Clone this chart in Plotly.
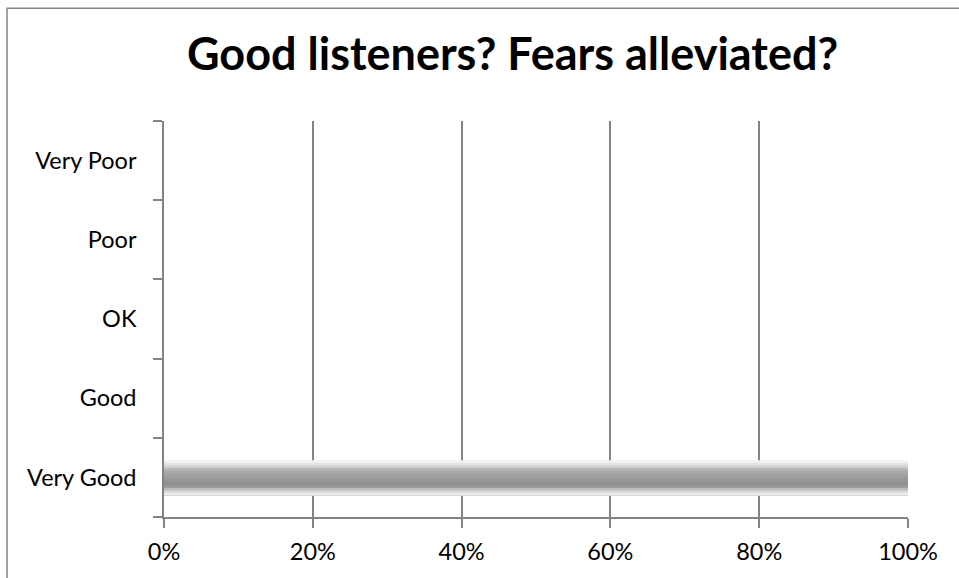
import plotly.graph_objects as go

# Survey answers, bottom to top on the category axis
categories = ["Very Good", "Good", "OK", "Poor", "Very Poor"]
shares = [1.0, 0, 0, 0, 0]
x_ticks = [0, 0.2, 0.4, 0.6, 0.8, 1.0]
x_tick_labels = ["0%", "20%", "40%", "60%", "80%", "100%"]

title_text = "Good listeners? Fears alleviated?"

grey = "#848484"
font_family = "Lato, 'Open Sans', 'DejaVu Sans', sans-serif"

# Vertical shading of the bar, from its top edge to its bottom edge
shade = ["#f2f2f2", "#e4e4e4", "#cfcfcf", "#b8b8b8", "#aaaaaa", "#a3a3a3",
         "#9d9d9d", "#989898", "#939393", "#8f8f8f", "#9a9a9a", "#bdbdbd",
         "#dadada", "#ececec"]
bar_top, bar_bottom = 0.215, -0.228
step = (bar_top - bar_bottom) / len(shade)

fig = go.Figure()
# Each layer reaches down to the bar's bottom edge, so later layers paint
# over the lower part of earlier ones and no seams are left between bands.
for i, col in enumerate(shade):
    layer_top = bar_top - i * step
    fig.add_trace(go.Bar(
        y=categories, x=shares, orientation="h",
        width=layer_top - bar_bottom,
        offset=bar_bottom,
        marker=dict(color=col, line=dict(width=0)),
        hoverinfo="skip", showlegend=False,
    ))

fig.update_layout(
    width=959, height=578,
    margin=dict(l=164, r=51, t=121, b=61),
    paper_bgcolor="white", plot_bgcolor="white",
    barmode="overlay",
    title=dict(text="<b>" + title_text + "</b>", x=0.5345, xanchor="center",
               xref="container", y=0.906, yanchor="middle",
               font=dict(family=font_family, size=45, color="black")),
    xaxis=dict(range=[0, 1], tickvals=x_ticks, ticktext=x_tick_labels,
               showgrid=True, gridcolor=grey, gridwidth=1.6,
               showline=True, linecolor=grey, linewidth=1.6,
               ticks="outside", ticklen=9, tickcolor=grey, tickwidth=1.6,
               zeroline=False, ticklabelstandoff=4,
               tickfont=dict(family=font_family, size=23.5, color="black")),
    yaxis=dict(type="category", categoryorder="array", categoryarray=categories,
               range=[-0.5, 4.5],
               showgrid=False, showline=True, linecolor=grey, linewidth=1.6,
               ticks="outside", ticklen=9, tickcolor=grey, tickwidth=1.6,
               tickson="boundaries", ticklabelstandoff=21,
               tickfont=dict(family=font_family, size=23.5, color="black")),
    shapes=[dict(type="rect", xref="paper", yref="paper",
                 x0=-0.211, x1=1.08, y0=-0.17, y1=1.285,
                 line=dict(color=grey, width=1.5), fillcolor="rgba(0,0,0,0)",
                 layer="below")],
)

fig.write_html("out.html")
